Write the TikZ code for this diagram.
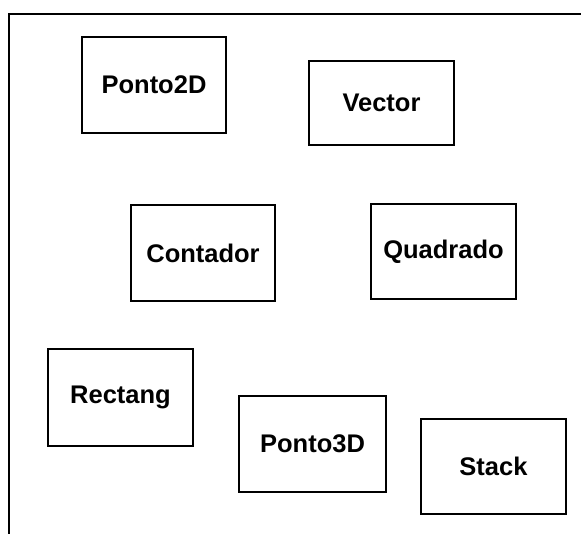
\documentclass[tikz,border=0pt]{standalone}
\usepackage{fontspec}
\setmainfont{Liberation Sans}
\tikzset{
	classbox/.style = {draw, line width=1.6pt, inner sep=0pt,
		font=\fontsize{25.5}{28}\selectfont\bfseries},
}
\begin{document}
\begin{tikzpicture}[x=1pt, y=-1pt]
	\useasboundingbox (0,0) rectangle (581,534);
%	\draw[help lines] (0,0) grid (581,534);
	\draw [line width=1.6pt] (581,14) -- (9,14) -- (9,534);
	\node [classbox, minimum width=144pt, minimum height=96pt] (ponto2d) at (154,85) {Ponto2D};
	\node [classbox, minimum width=145pt, minimum height=84pt] (vector) at (381.5,103) {Vector};
	\node [classbox, minimum width=144pt, minimum height=96pt] (contador) at (203,253) {Contador};
	\node [classbox, minimum width=145pt, minimum height=95pt] (quadrado) at (443.5,251.5) {Quadrado};
	\node [classbox, minimum width=145pt, minimum height=97pt] (rectang) at (120.5,397.5) {Rectang};
	\node [classbox, minimum width=147pt, minimum height=96pt] (ponto3d) at (312.5,444) {Ponto3D};
	\node [classbox, minimum width=145pt, minimum height=95pt] (stack) at (493.5,466.5) {Stack};
\end{tikzpicture}
\end{document}
